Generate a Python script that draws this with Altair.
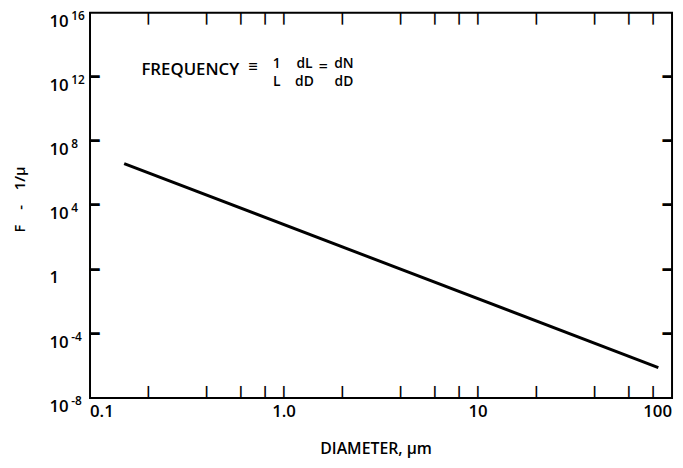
import altair as alt
import pandas as pd

# ---- data ----
diameter = [0.15, 85.0]          # micrometres
frequency = [4.0e6, 8.0e-7]      # 1/micrometre

x_minor_ticks = [0.2, 0.4, 0.6, 0.8, 1, 2, 4, 6, 8, 10, 20, 40, 60, 80]
y_ticks = [1e-4, 1, 1e4, 1e8, 1e12]
x_label_values = [0.1, 1, 10, 100]
x_label_text = ["0.1", "1.0", "10", "100"]
y_label_values = [1e-8, 1e-4, 1, 1e4, 1e8, 1e12, 1e16]
y_label_base = ["10", "10", "1", "10", "10", "10", "10"]
y_label_exp = ["-8", "-4", "", "4", "8", "12", "16"]

W, H = 589, 390
FONT = "Open Sans"
MONO = "DejaVu Sans Mono"
xs = alt.Scale(type="log", domain=[0.1, 100], nice=False)
ys = alt.Scale(type="log", domain=[1e-8, 1e16], nice=False)

line = alt.Chart(pd.DataFrame({"d": diameter, "f": frequency})).mark_line(
    color="black", strokeWidth=3
).encode(
    x=alt.X("d:Q", scale=xs, axis=None),
    y=alt.Y("f:Q", scale=ys, axis=None),
)

# inward ticks, drawn as box-drawing glyphs positioned by the scales
xt = pd.DataFrame({"v": x_minor_ticks, "t": ["┃"] * len(x_minor_ticks)})
yt = pd.DataFrame({"v": y_ticks, "t": ["━"] * len(y_ticks)})
vt_style = dict(font=MONO, fontSize=10, baseline="middle", align="center", color="black")
ht_style = dict(font=MONO, fontSize=16, baseline="middle", color="black")

bottom_ticks = alt.Chart(xt).mark_text(**vt_style).encode(
    x=alt.X("v:Q", scale=xs, axis=None), y=alt.value(H - 6), text="t:N")
top_ticks = alt.Chart(xt).mark_text(**vt_style).encode(
    x=alt.X("v:Q", scale=xs, axis=None), y=alt.value(6), text="t:N")
left_ticks = alt.Chart(yt).mark_text(align="left", **ht_style).encode(
    y=alt.Y("v:Q", scale=ys, axis=None), x=alt.value(0), text="t:N")
right_ticks = alt.Chart(yt).mark_text(align="right", **ht_style).encode(
    y=alt.Y("v:Q", scale=ys, axis=None), x=alt.value(W), text="t:N")

# x tick labels (first flush left, last flush right)
xl = pd.DataFrame({"v": x_label_values, "t": x_label_text})
xlab_style = dict(baseline="middle", font=FONT, fontSize=17, fontWeight=600, color="black")
xlab_layers = []
for part, al in ((xl.iloc[:1], "left"), (xl.iloc[1:-1], "center"), (xl.iloc[-1:], "right")):
    xlab_layers.append(
        alt.Chart(part).mark_text(align=al, **xlab_style).encode(
            x=alt.X("v:Q", scale=xs, axis=None), y=alt.value(H + 14), text="t:N"))

xtitle = alt.Chart(pd.DataFrame({"t": ["DIAMETER, μm"]})).mark_text(
    align="center", baseline="middle", font=FONT, fontSize=16, fontWeight=600,
    color="black"
).encode(x=alt.value(W / 2 - 5), y=alt.value(H + 52), text="t:N")

ylab = pd.DataFrame({"v": y_label_values, "b": y_label_base, "e": y_label_exp})
ybase = alt.Chart(ylab).mark_text(
    align="left", baseline="middle", font=FONT, fontSize=17, fontWeight=600,
    color="black", dy=9
).encode(y=alt.Y("v:Q", scale=ys, axis=None), x=alt.value(-41), text="b:N")
yexp = alt.Chart(ylab).mark_text(
    align="left", baseline="middle", font=FONT, fontSize=12, fontWeight=600,
    color="black", dy=3
).encode(y=alt.Y("v:Q", scale=ys, axis=None), x=alt.value(-19), text="e:N")

ytitle = alt.Chart(pd.DataFrame({"t": ["F\u2003-\u20031/μ"]})).mark_text(
    angle=270, align="center", baseline="middle", font=FONT, fontSize=15,
    fontWeight=600, color="black"
).encode(x=alt.value(-71), y=alt.value(H / 2 - 6), text="t:N")

# annotation: FREQUENCY ≡ (1/L)(dL/dD) = dN/dD
ann_text = ["FREQUENCY", "≡", "1", "L", "dL", "dD", "=", "dN", "dD"]
ann_x = [52, 165, 189, 189, 217, 217, 236, 257, 257]
ann_y = [58, 55, 52, 70, 52, 70, 55, 52, 70]
ann_size = [17, 17, 14, 14, 14, 14, 16, 14, 14]
ann_align = ["left"] + ["center"] * 8

ann_layers = []
for t, x, y, s, a in zip(ann_text, ann_x, ann_y, ann_size, ann_align):
    ann_layers.append(
        alt.Chart(pd.DataFrame({"t": [t]})).mark_text(
            align=a, baseline="middle", font=FONT, fontSize=s, fontWeight=600,
            color="black"
        ).encode(x=alt.value(x), y=alt.value(y), text="t:N"))

chart = alt.layer(
    line, bottom_ticks, top_ticks, left_ticks, right_ticks,
    *xlab_layers, xtitle, ybase, yexp, ytitle, *ann_layers
).properties(
    width=W, height=H,
    autosize=alt.AutoSizeParams(type="none"),
    padding={"left": 83, "top": 2, "right": 3, "bottom": 68},
    background="white",
).configure_view(stroke="black", strokeWidth=2)

chart.save("out.html", embed_options={"renderer": "svg", "actions": False})
